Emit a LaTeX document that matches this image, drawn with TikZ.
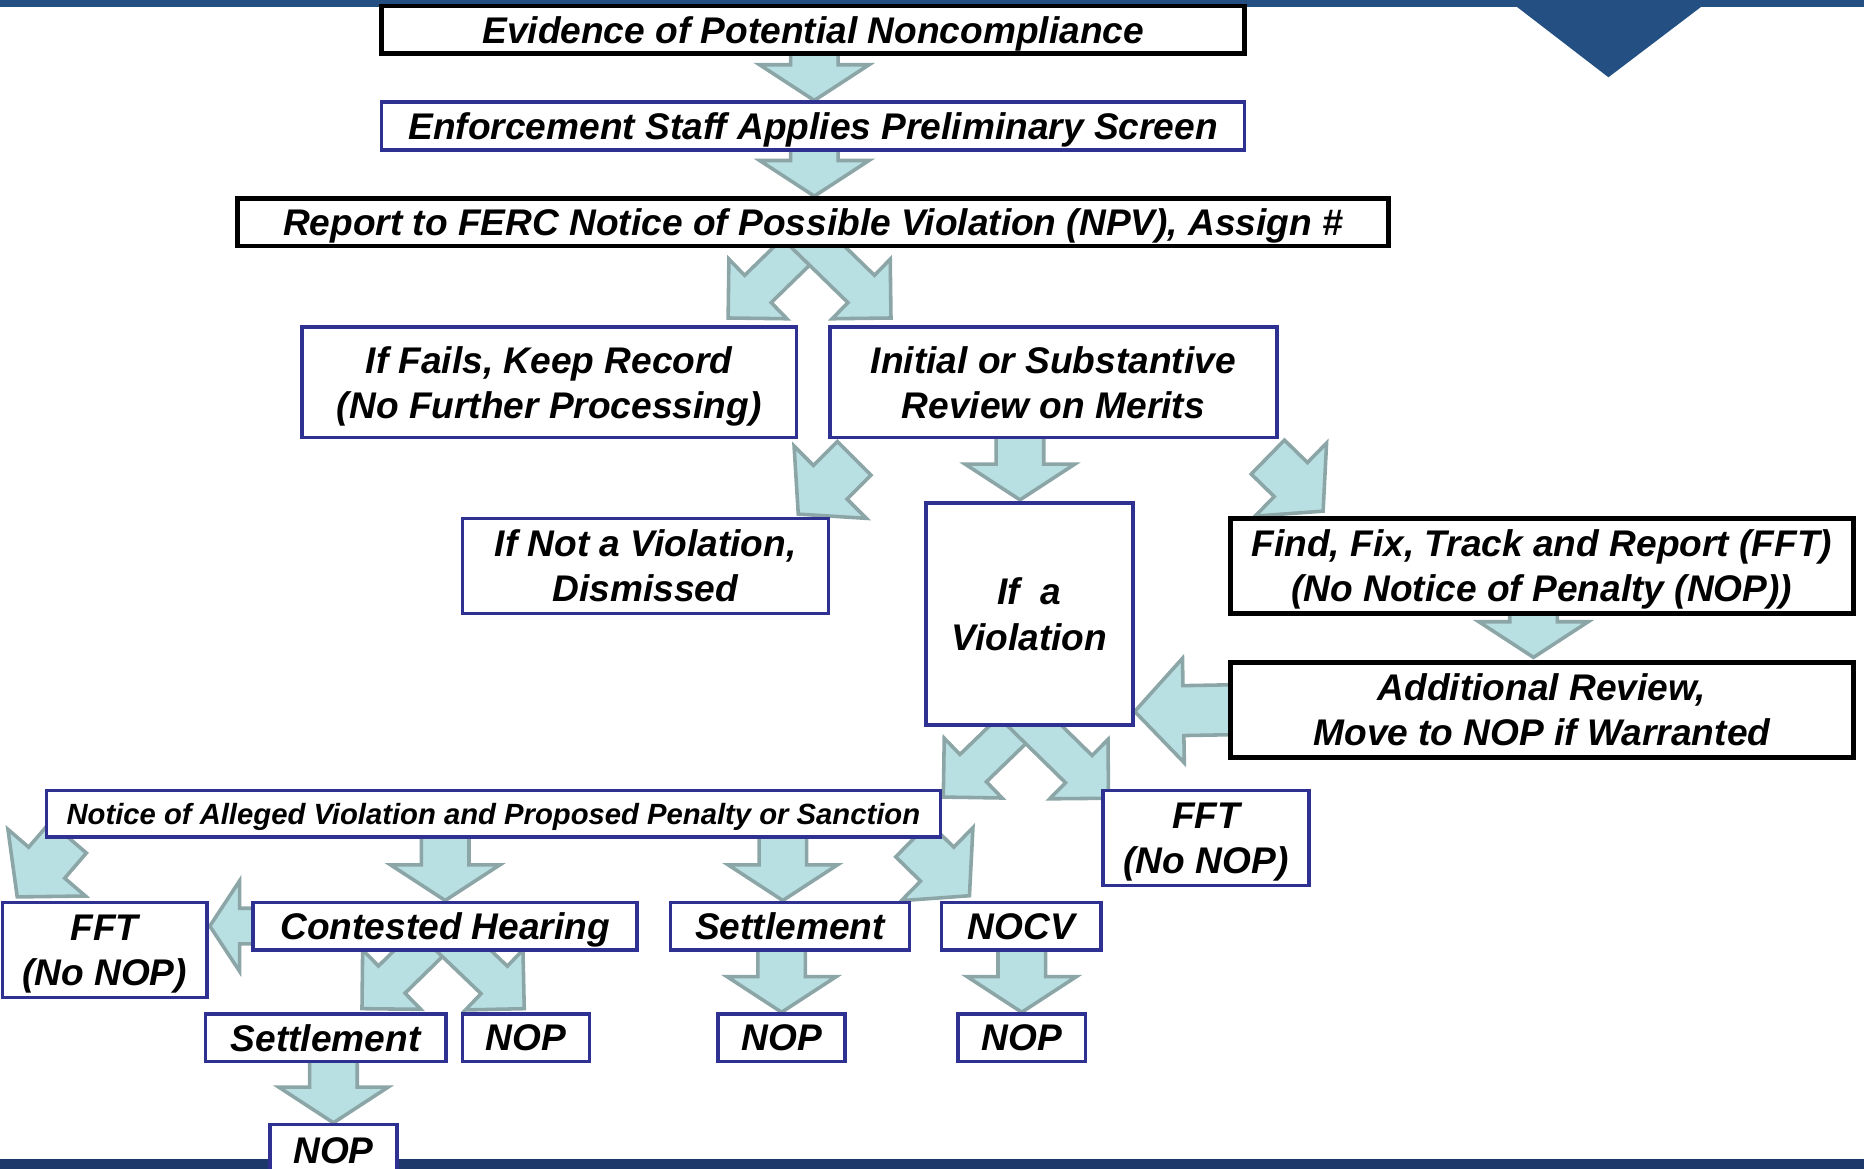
\documentclass[tikz,border=0pt]{standalone}
\usepackage{fontspec}
\setmainfont{Liberation Sans}
\usetikzlibrary{calc}

\definecolor{boxblue}{RGB}{46,49,146}
\definecolor{arrowfill}{RGB}{184,223,226}
\definecolor{arrowline}{RGB}{140,166,168}
\definecolor{topbar}{RGB}{35,79,130}
\definecolor{bottombar}{RGB}{28,56,106}

\pgfdeclarelayer{back}
\pgfsetlayers{back,main}

\newcommand{\labelfont}{\bfseries\itshape\fontsize{15.6}{19}\selectfont}
\newcommand{\smallfont}{\bfseries\itshape\fontsize{12.3}{15}\selectfont}

\tikzset{
	stagebox/.style={draw=boxblue, fill=white, line width=1.5pt, align=center, inner sep=0pt, text depth=0pt, font=\labelfont},
	keybox/.style={stagebox, draw=black, line width=2pt},
	arrowdims/.code args={#1/#2/#3}{\def\sw{#1}\def\hw{#2}\def\hl{#3}},
	blockarrow/.style={fill=arrowfill, draw=arrowline, line width=1.5pt, line join=miter, arrowdims=10pt/23pt/15pt},
	splitarrow/.style={arrowdims=8pt/17.5pt/17.5pt},
	slantarrow/.style={arrowdims=10pt/21.5pt/19pt},
}

% block arrow from tail #2 to tip #3 (shaft/head half widths, head length in arrowdims)
\newcommand{\fatarrow}[3][]{%
	\draw[blockarrow,#1] let \p1=#2, \p2=#3, \p3=($(\p2)-(\p1)$), \n1={atan2(\y3,\x3)} in
	($(\p1)+(\n1-90:\sw)$) -- ($(\p2)+(\n1+180:\hl)+(\n1-90:\sw)$)
	-- ($(\p2)+(\n1+180:\hl)+(\n1-90:\hw)$) -- (\p2)
	-- ($(\p2)+(\n1+180:\hl)+(\n1+90:\hw)$) -- ($(\p2)+(\n1+180:\hl)+(\n1+90:\sw)$)
	-- ($(\p1)+(\n1+90:\sw)$) -- cycle}

\begin{document}
\begin{tikzpicture}[x=0.5pt, y=-0.5pt]
	\useasboundingbox (0,0) rectangle (1568,983);
	
	% boxes
	\node[keybox, minimum width=363pt, minimum height=20pt] (ev) at (684,25) {Evidence of Potential Noncompliance};
	\node[stagebox, minimum width=363pt, minimum height=20pt] (enf) at (684,106) {Enforcement Staff Applies Preliminary Screen};
	\node[keybox, minimum width=484pt, minimum height=20pt] (rep) at (684,187) {Report to FERC Notice of Possible Violation (NPV), Assign \#};
	\node[stagebox, minimum width=208pt, minimum height=46.5pt] (fail) at (462,321.5) {If Fails, Keep Record\\(No Further Processing)};
	\node[stagebox, minimum width=188pt, minimum height=46.5pt] (init) at (886,321.5) {Initial or Substantive\\Review on Merits};
	\node[stagebox, minimum width=154pt, minimum height=40pt] (dism) at (543,476) {If Not a Violation,\\Dismissed};
	\node[stagebox, minimum width=87pt, minimum height=93.5pt] (viol) at (866,516.5) {If\ \ a\\Violation};
	\node[keybox, minimum width=262pt, minimum height=40pt] (fft) at (1297,476) {Find, Fix, Track and Report (FFT)\\(No Notice of Penalty (NOP))};
	\node[keybox, minimum width=262pt, minimum height=40pt] (rev) at (1297,597) {Additional Review,\\Move to NOP if Warranted};
	\node[stagebox, font=\smallfont, minimum width=376pt, minimum height=19.5pt] (nav) at (415,684.5) {Notice of Alleged Violation and Proposed Penalty or Sanction};
	\node[stagebox, minimum width=86.5pt, minimum height=40pt] (fftr) at (1014.5,705) {FFT\\(No NOP)};
	\node[stagebox, minimum width=86pt, minimum height=40pt] (fftl) at (88,799) {FFT\\(No NOP)};
	\node[stagebox, minimum width=161.5pt, minimum height=20pt] (hear) at (374.5,779) {Contested Hearing};
	\node[stagebox, minimum width=100.5pt, minimum height=20pt] (setu) at (664.5,779) {Settlement};
	\node[stagebox, minimum width=67pt, minimum height=20pt] (nocv) at (859,779) {NOCV};
	\node[stagebox, minimum width=101pt, minimum height=20pt] (setl) at (274,873) {Settlement};
	\foreach \n/\x in {nop1/442.5, nop2/657.5, nop3/859.5}
	\node[stagebox, minimum width=53.5pt, minimum height=20pt] (\n) at (\x,873) {NOP};
	\node[stagebox, minimum width=53.5pt, minimum height=22pt] (nop4) at (280.5,968) {NOP};
	
	\begin{pgfonlayer}{back}
		% page bars
		\fill[topbar] (0,0) rectangle (1568,6);
		\fill[topbar] (1275,5) -- (1432,5) -- (1353,65) -- cycle;
		\fill[bottombar] (0,975) rectangle (1568,983);
		
		% straight arrows
		\foreach \a/\b in {ev/enf, enf/rep}
		\fatarrow{($(\a.south)+(1,-6)$)}{($(\b.north)+(1,0)$)};
		\fatarrow{($(viol.north |- init.south)+(-8,-8)$)}{($(viol.north)+(-8,-1)$)};
		\fatarrow{($(fft.south)+(-7,-6)$)}{($(rev.north)+(-7,-2)$)};
		\fatarrow{($(hear.north |- nav.south)+(0,-6)$)}{(hear.north)};
		\fatarrow{($(setu.north |- nav.south)+(-6,-6)$)}{($(setu.north)+(-6,0)$)};
		\foreach \a/\b in {setu/nop2, nocv/nop3, setl/nop4}
		\fatarrow{($(\b.north |- \a.south)+(0,-7)$)}{(\b.north)};
		\fatarrow[arrowdims=10.5pt/22pt/20.5pt]{($(rev.west)+(5,0)$)}{($(viol.south east)+(0,-13)$)};
		\fatarrow[arrowdims=7.5pt/19pt/12.5pt]{($(hear.west)+(2,0)$)}{($(fftl.east)+(1,-20)$)};
		
		% split pairs
		\fatarrow[splitarrow]{($(rep.south)+(6,-17)$)}{($(fail.north east)+(-59,-6)$)};
		\fatarrow[splitarrow]{($(rep.south)+(-12,-17)$)}{($(init.north west)+(53,-6)$)};
		\fatarrow[splitarrow]{($(viol.south)+(7,-18)$)}{($(nav.north east)+(1,7)$)};
		\fatarrow[splitarrow]{($(viol.south)+(-13,-18)$)}{($(fftr.north west)+(6,8)$)};
		\fatarrow[splitarrow]{($(hear.south)+(-1.5,-19)$)}{($(setl.north east)+(-72,-3)$)};
		\fatarrow[splitarrow]{($(hear.south)+(-3.5,-19)$)}{($(nop1.north)+(-1.5,-3)$)};
		
		% slanted arrows
		\fatarrow[slantarrow]{($(init.south west)+(22,16)$)}{($(dism.north east)+(-27,-2)$)};
		\fatarrow[slantarrow]{($(init.south east)+(-9,15)$)}{($(fft.north west)+(80,-4)$)};
		\fatarrow[slantarrow]{($(nav.south west)+(20,-1)$)}{($(fftl.north west)+(14,-3)$)};
		\fatarrow[slantarrow]{($(nav.south east)+(-25,1)$)}{($(nocv.north west)+(25,-4)$)};
	\end{pgfonlayer}
\end{tikzpicture}
\end{document}
